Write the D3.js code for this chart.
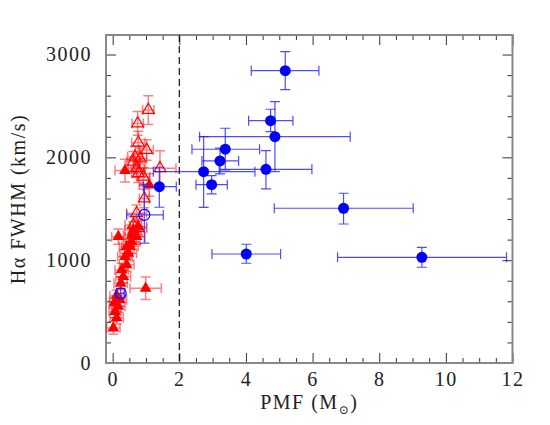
<!DOCTYPE html>
<html>
<head>
<meta charset="utf-8">
<script src="https://cdn.jsdelivr.net/npm/d3@7"></script>
<style>
  html, body { margin: 0; padding: 0; background: #fff; }
  svg text { font-family: "Liberation Serif", "DejaVu Serif", serif; fill: #222; }
</style>
</head>
<body>
<div id="chart"></div>
<script>
// Red filled triangles: [pmf, fwhm, pmf error, fwhm error]
const redFilled = [
  [0.02, 340, 0.2, 60], [0.12, 440, 0.2, 60], [0.07, 500, 0.18, 60],
  [0.17, 550, 0.2, 60], [0.05, 585, 0.15, 55], [0.22, 615, 0.2, 60],
  [0.12, 655, 0.2, 55], [0.24, 775, 0.2, 60], [0.32, 840, 0.22, 60],
  [0.27, 905, 0.2, 65], [0.42, 955, 0.22, 65], [0.37, 1035, 0.22, 70],
  [0.47, 1067, 0.25, 70], [0.42, 1131, 0.22, 70], [0.52, 1135, 0.25, 70],
  [0.57, 1180, 0.25, 75], [0.17, 1229, 0.2, 75], [0.57, 1245, 0.25, 75],
  [0.72, 1229, 0.25, 75], [0.62, 1294, 0.25, 80], [0.77, 1326, 0.25, 80],
  [0.99, 727, 0.47, 110], [0.37, 1871, 0.3, 110], [1.10, 1731, 0.3, 110]
];

// Red open triangles: [pmf, fwhm, pmf error, fwhm error]
const redOpen = [
  [1.07, 2460, 0.17, 140], [0.75, 2330, 0.17, 115], [0.77, 2143, 0.2, 110],
  [1.02, 2072, 0.2, 100], [0.62, 1958, 0.2, 100], [0.67, 2007, 0.22, 100],
  [0.82, 1990, 0.2, 100], [0.72, 1894, 0.25, 90], [1.42, 1894, 0.48, 170],
  [0.77, 1845, 0.2, 90], [0.92, 1812, 0.2, 90], [0.95, 1600, 0.15, 90],
  [0.72, 1456, 0.3, 80], [0.62, 1342, 0.25, 80], [0.77, 1310, 0.25, 80]
];

// Blue filled circles: [pmf, fwhm, pmf low, pmf high, fwhm low, fwhm high]
const blueFilled = [
  [5.18, 2843, 4.16, 6.19, 2659, 3028],
  [4.74, 2357, 4.08, 5.41, 2250, 2468],
  [4.87, 2201, 2.61, 7.13, 1861, 2542],
  [3.38, 2079, 2.38, 4.41, 1877, 2283],
  [3.22, 1965, 2.68, 3.78, 1839, 2089],
  [2.73, 1861, 1.22, 4.27, 1514, 2201],
  [4.60, 1884, 3.20, 5.98, 1693, 2065],
  [2.97, 1734, 2.50, 3.44, 1644, 1822],
  [6.93, 1505, 4.85, 9.02, 1352, 1651],
  [4.01, 1060, 2.98, 5.04, 970, 1155],
  [9.28, 1028, 6.75, 11.82, 931, 1125],
  [1.40, 1715, 0.92, 1.91, 1515, 1904]
];

// Blue open circles: [pmf, fwhm, pmf low, pmf high, fwhm low, fwhm high]
const blueOpen = [
  [0.95, 1440, 0.42, 1.52, 1165, 1740],
  [0.24, 678, 0.12, 0.36, 630, 726]
];

const xTicks = [0, 2, 4, 6, 8, 10, 12];
const yTicks = [0, 1000, 2000, 3000];
const pmfCut = 2;

const W = 550, H = 425;
const margin = { top: 35, right: 37.5, bottom: 62, left: 106 };
const width = W - margin.left - margin.right;
const height = H - margin.top - margin.bottom;

const svg = d3.select('#chart').append('svg')
  .attr('width', W).attr('height', H);
const g = svg.append('g')
  .attr('transform', `translate(${margin.left},${margin.top})`);

const x = d3.scaleLinear().domain([-0.2, 12]).range([0, width]);
const y = d3.scaleLinear().domain([0, 3190]).range([height, 0]);

// minor ticks on all four sides, pointing inward
const xMinor = d3.range(0, 12.01, 0.5).filter(v => v % 2 !== 0);
const yMinor = d3.range(0, 3190, 200).filter(v => v % 1000 !== 0);

function styleAxis(sel) {
  sel.select('.domain').remove();
  sel.selectAll('.tick line').attr('stroke', '#333').attr('stroke-width', 1);
  sel.selectAll('.tick text').style('font-size', '20px').attr('fill', '#222')
    .style('letter-spacing', '1.5px');
}

g.append('g').attr('transform', `translate(0,${height})`)
  .call(d3.axisBottom(x).tickValues(xTicks).tickSizeInner(-10).tickSizeOuter(0).tickPadding(9).tickFormat(d3.format('d')))
  .call(styleAxis);
g.append('g').attr('transform', `translate(0,${height})`)
  .call(d3.axisBottom(x).tickValues(xMinor).tickSizeInner(-5).tickSizeOuter(0).tickFormat(''))
  .call(styleAxis);
g.append('g')
  .call(d3.axisTop(x).tickValues(xTicks).tickSizeInner(-10).tickSizeOuter(0).tickFormat(''))
  .call(styleAxis);
g.append('g')
  .call(d3.axisTop(x).tickValues(xMinor).tickSizeInner(-5).tickSizeOuter(0).tickFormat(''))
  .call(styleAxis);

g.append('g')
  .call(d3.axisLeft(y).tickValues(yTicks).tickSizeInner(-10).tickSizeOuter(0).tickPadding(14).tickFormat(d3.format('d')))
  .call(styleAxis);
g.append('g')
  .call(d3.axisLeft(y).tickValues(yMinor).tickSizeInner(-5).tickSizeOuter(0).tickFormat(''))
  .call(styleAxis);
g.append('g').attr('transform', `translate(${width},0)`)
  .call(d3.axisRight(y).tickValues(yTicks).tickSizeInner(-10).tickSizeOuter(0).tickFormat(''))
  .call(styleAxis);
g.append('g').attr('transform', `translate(${width},0)`)
  .call(d3.axisRight(y).tickValues(yMinor).tickSizeInner(-5).tickSizeOuter(0).tickFormat(''))
  .call(styleAxis);

// frame
g.append('rect')
  .attr('width', width).attr('height', height)
  .attr('fill', 'none').attr('stroke', '#888').attr('stroke-width', 2);

// dashed separator at PMF = 2
g.append('line')
  .attr('x1', x(pmfCut)).attr('x2', x(pmfCut))
  .attr('y1', 0).attr('y2', height)
  .attr('stroke', '#111').attr('stroke-width', 1.2)
  .attr('stroke-dasharray', '7,4');

// error bars
const cap = 5;
function errorBars(layer, rows, acc, color, opacity, width) {
  const grp = layer.append('g')
    .attr('stroke', color).attr('stroke-opacity', opacity)
    .attr('stroke-width', width).attr('fill', 'none');
  rows.forEach(d => {
    const e = acc(d);
    const px = x(e.x), py = y(e.y);
    const x0 = x(e.x0), x1 = x(e.x1), y0 = y(e.y0), y1 = y(e.y1);
    grp.append('path').attr('d',
      `M${x0},${py}H${x1}` +
      `M${x0},${py - cap}V${py + cap}M${x1},${py - cap}V${py + cap}` +
      `M${px},${y0}V${y1}` +
      `M${px - cap},${y0}H${px + cap}M${px - cap},${y1}H${px + cap}`);
  });
}

const symErr = d => ({ x: d[0], y: d[1], x0: d[0] - d[2], x1: d[0] + d[2], y0: d[1] - d[3], y1: d[1] + d[3] });
const asymErr = d => ({ x: d[0], y: d[1], x0: d[2], x1: d[3], y0: d[4], y1: d[5] });

errorBars(g, redFilled, symErr, '#ff0000', 0.5, 1.5);
errorBars(g, redOpen, symErr, '#ff0000', 0.5, 1.5);

const tri = d3.symbol().type(d3.symbolTriangle).size(60);

g.append('g').selectAll('path')
  .data(redOpen).join('path')
  .attr('d', tri)
  .attr('transform', d => `translate(${x(d[0])},${y(d[1])})`)
  .attr('fill', 'none').attr('stroke', '#ff0000').attr('stroke-width', 1.2);

g.append('g').selectAll('path')
  .data(redFilled).join('path')
  .attr('d', tri)
  .attr('transform', d => `translate(${x(d[0])},${y(d[1])})`)
  .attr('fill', '#ff0000');

errorBars(g, blueFilled, asymErr, '#2020ff', 0.8, 1.2);
errorBars(g, blueOpen, asymErr, '#2020ff', 0.8, 1.2);

g.append('g').selectAll('circle')
  .data(blueOpen).join('circle')
  .attr('cx', d => x(d[0])).attr('cy', d => y(d[1]))
  .attr('r', 5.5)
  .attr('fill', 'none').attr('stroke', '#0000ff').attr('stroke-width', 1.2);

g.append('g').selectAll('circle')
  .data(blueFilled).join('circle')
  .attr('cx', d => x(d[0])).attr('cy', d => y(d[1]))
  .attr('r', 5.5)
  .attr('fill', '#0000ff');

// axis titles
const xt = g.append('text')
  .attr('x', width / 2).attr('y', height + 46)
  .attr('text-anchor', 'middle')
  .style('font-size', '20px').style('letter-spacing', '1.5px');
xt.append('tspan').text('PMF (M');
xt.append('tspan').attr('dy', 5).style('font-size', '12px').text('\u2299');
xt.append('tspan').attr('dy', -5).text(')');

g.append('text')
  .attr('transform', `translate(${-81},${height / 2}) rotate(-90)`)
  .attr('text-anchor', 'middle')
  .style('font-size', '20px').style('letter-spacing', '1.5px')
  .text('H\u03b1 FWHM (km/s)');
</script>
</body>
</html>
